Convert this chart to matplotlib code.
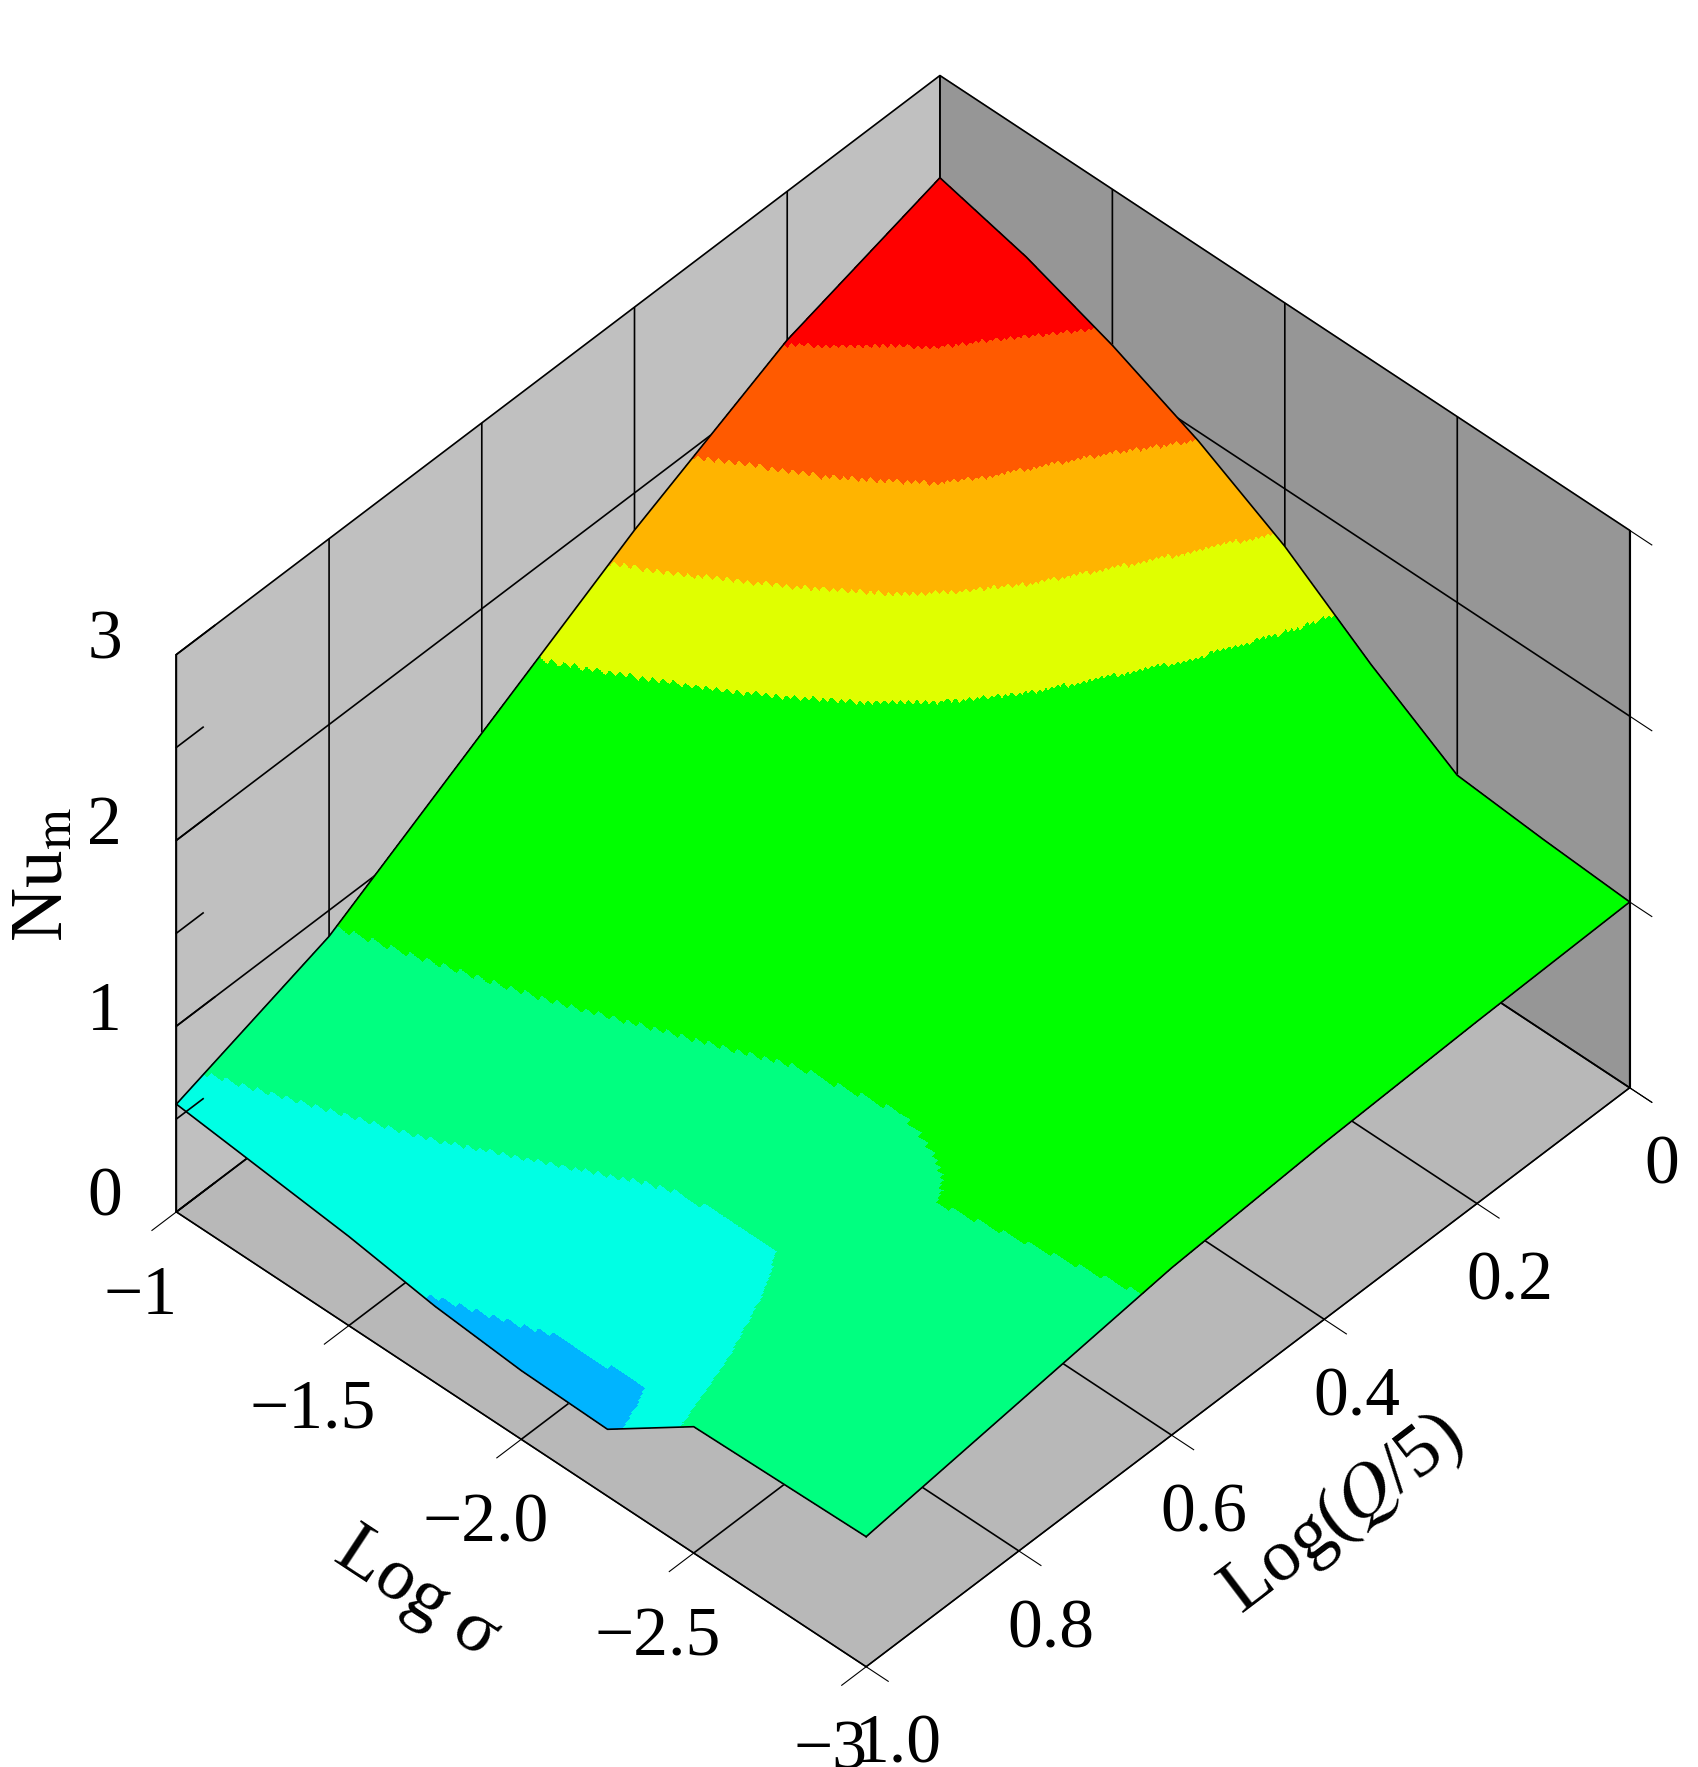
import numpy as np
import matplotlib
matplotlib.use("Agg")
import matplotlib.pyplot as plt
from matplotlib.colors import ListedColormap, BoundaryNorm

plt.rcParams['font.family'] = ['Liberation Serif', 'DejaVu Serif']
plt.rcParams['mathtext.fontset'] = 'stix'

# ---- data ----
log_sigma = [-1.0, -1.25, -1.5, -1.75, -2.0, -2.25, -2.5, -2.75, -3.0]
log_q = [0.0, 0.2, 0.4, 0.6, 0.8, 1.0]
# rows: log_q, columns: log_sigma
nu_q00 = [2.45, 2.33, 2.16, 1.95, 1.69, 1.36, 1.07, 1.03, 1.00]
nu_q02 = [2.20, 2.08, 1.90, 1.66, 1.42, 1.18, 1.00, 0.99, 0.98]
nu_q04 = [1.80, 1.65, 1.50, 1.35, 1.20, 1.05, 0.97, 0.96, 0.95]
nu_q06 = [1.33, 1.22, 1.12, 1.03, 0.95, 0.91, 0.92, 0.91, 0.90]
nu_q08 = [0.86, 0.80, 0.74, 0.67, 0.60, 0.60, 0.82, 0.81, 0.80]
nu_q10 = [0.58, 0.53, 0.48, 0.41, 0.37, 0.36, 0.68, 0.69, 0.70]
levels = [0.42, 0.63, 0.88, 1.5, 1.72, 1.95, 2.19]
colors = ['#00b4ff', '#00ffe4', '#00ff80', '#00ff00', '#e0ff00',
          '#ffb400', '#ff5a00', '#ff0000']
sigma_ticks = [-1, -1.5, -2.0, -2.5, -3]
sigma_ticklabels = ['\u22121', '\u22121.5', '\u22122.0', '\u22122.5', '\u22123']
q_ticks = [0, 0.2, 0.4, 0.6, 0.8, 1.0]
q_ticklabels = ['0', '0.2', '0.4', '0.6', '0.8', '1.0']
z_ticks = [0, 1, 2, 3]
z_ticklabels = ['0', '1', '2', '3']
z_minor = [0.5, 1.5, 2.5]

S = np.array(log_sigma)
Q = np.array(log_q)
Z = np.array([nu_q00, nu_q02, nu_q04, nu_q06, nu_q08, nu_q10])

# bilinear refinement of the mesh only for drawing smooth colour bands
def refine(x, n):
    out = []
    for a, b in zip(x[:-1], x[1:]):
        out.extend(a + (b - a) * np.arange(n) / n)
    out.append(x[-1])
    return np.array(out)

n = 40
Sf = refine(S, n)
Qf = refine(Q, n)
Zr = np.array([np.interp(Sf[::-1], S[::-1], row[::-1])[::-1] for row in Z])
Zf = np.array([np.interp(Qf, Q, Zr[:, j]) for j in range(Zr.shape[1])]).T
SS, QQ = np.meshgrid(Sf, Qf)

cmap = ListedColormap(colors)
norm = BoundaryNorm([-10] + levels + [10], cmap.N)
Zmid = 0.25 * (Zf[:-1, :-1] + Zf[1:, :-1] + Zf[:-1, 1:] + Zf[1:, 1:])
fc = np.ones(Zf.shape + (4,))
fc[:-1, :-1] = cmap(norm(Zmid))

fig = plt.figure(figsize=(16.99, 17.67), dpi=100)
ax = fig.add_axes([0.018, -0.006, 1, 1], projection='3d', computed_zorder=False)
ax.set_proj_type('ortho')
ax.view_init(elev=45, azim=133)
ax.set_box_aspect((834, 990, 697), zoom=0.95)

ax.xaxis.set_pane_color('#c0c0c0')
ax.yaxis.set_pane_color('#969696')
ax.zaxis.set_pane_color('#b8b8b8')
for a in (ax.xaxis, ax.yaxis, ax.zaxis):
    a.line.set_color('black')
    a._axinfo['grid']['color'] = 'black'
    a._axinfo['grid']['linewidth'] = 1.2
    a._axinfo['tick']['outward_factor'] = 0.0
    a._axinfo['tick']['inward_factor'] = 0.4

ax.plot_surface(SS, QQ, Zf, facecolors=fc, rstride=1, cstride=1,
                shade=False, linewidth=0, antialiased=False)
# outline
ax.plot(S, np.zeros_like(S), Z[0], color='k', lw=1.2)
ax.plot(S, np.ones_like(S), Z[-1], color='k', lw=1.2)
ax.plot(np.full_like(Q, S[0]), Q, Z[:, 0], color='k', lw=1.2)
ax.plot(np.full_like(Q, S[-1]), Q, Z[:, -1], color='k', lw=1.2)
# left front wall edge with z ticks
ax.plot([S[0], S[0]], [Q[-1], Q[-1]], [0, 3], color='k', lw=1.2)
for zt in z_ticks + z_minor:
    ln = 0.05 if zt in z_ticks else 0.035
    ax.plot([S[0], S[0]], [Q[-1], Q[-1] - ln], [zt, zt], color='k', lw=1.2)

ax.set_xlim(-3, -1)
ax.set_ylim(0, 1)
ax.set_zlim(0, 3)
ax.set_xticks(sigma_ticks)
ax.set_xticklabels(sigma_ticklabels)
ax.set_yticks(q_ticks)
ax.set_yticklabels(q_ticklabels)
ax.set_zticks(z_ticks)
ax.set_zticklabels([])
ax.tick_params(labelsize=50, pad=22)
for zt, zl in zip(z_ticks, z_ticklabels):
    ax.text(S[0] + 0.08, Q[-1] + 0.035, zt + 0.08, zl, fontsize=50,
            ha='right', va='center')
ax.set_xlabel('Log \u03c3', fontsize=54, labelpad=66)
ax.set_ylabel('Log($\\mathit{Q}$/5)', fontsize=54, labelpad=66)
fig.text(0.026, 0.505, 'Nu$_{\\mathrm{m}}$', fontsize=54, rotation=90, ha='center', va='center')

fig.savefig('out.png', dpi=100)
